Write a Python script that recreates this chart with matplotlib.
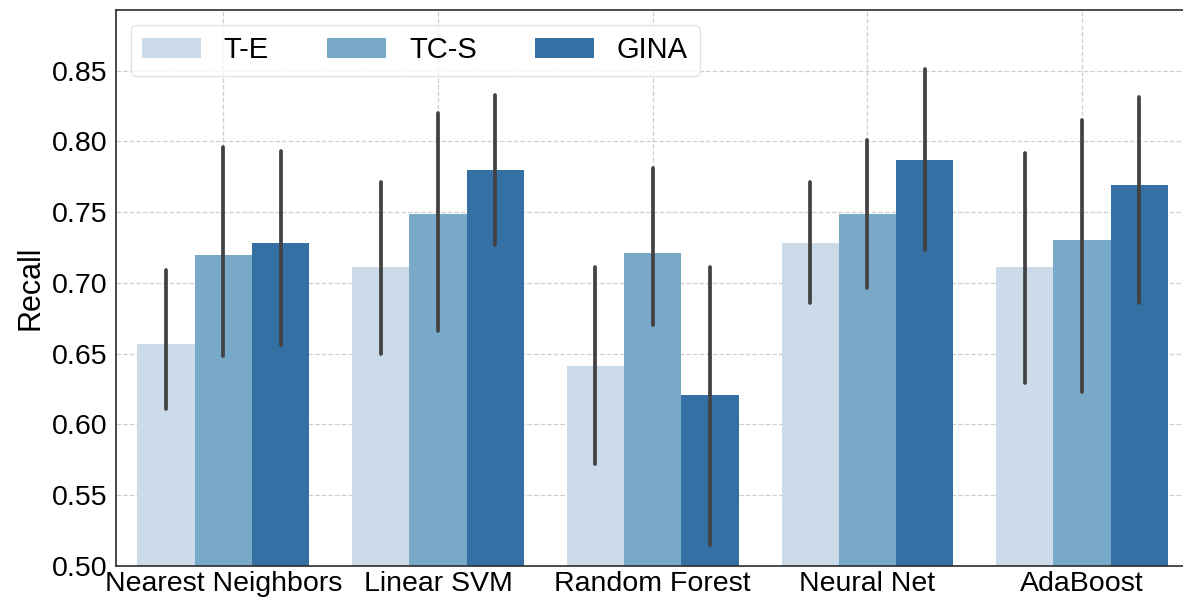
import numpy as np
import matplotlib
matplotlib.use("Agg")
import matplotlib.pyplot as plt

# classifier recall per feature set: bar height with CI bounds
classifiers = ["Nearest Neighbors", "Linear SVM", "Random Forest", "Neural Net", "AdaBoost"]
methods = ["T-E", "TC-S", "GINA"]

te_mean = [0.657, 0.711, 0.641, 0.728, 0.711]
te_lo = [0.611, 0.650, 0.572, 0.686, 0.629]
te_hi = [0.709, 0.771, 0.711, 0.771, 0.792]

tcs_mean = [0.720, 0.749, 0.721, 0.749, 0.730]
tcs_lo = [0.648, 0.666, 0.670, 0.696, 0.623]
tcs_hi = [0.796, 0.820, 0.781, 0.801, 0.815]

gina_mean = [0.728, 0.780, 0.621, 0.787, 0.769]
gina_lo = [0.656, 0.727, 0.515, 0.723, 0.686]
gina_hi = [0.793, 0.833, 0.711, 0.851, 0.831]

colors = ["#cbdbea", "#78a9c9", "#3470a3"]

plt.rcParams["font.family"] = ["Liberation Sans", "DejaVu Sans"]

fig = plt.figure(figsize=(11.83, 6.0), dpi=100)
ax = fig.add_axes([0.098, 0.057, 0.902, 0.926])

x = np.arange(len(classifiers))
w = 0.8 / len(methods)
series = [(te_mean, te_lo, te_hi), (tcs_mean, tcs_lo, tcs_hi), (gina_mean, gina_lo, gina_hi)]
for i, (name, (m, lo, hi)) in enumerate(zip(methods, series)):
    xs = x - 0.4 + w * (i + 0.5)
    ax.bar(xs, m, w, color=colors[i], label=name, zorder=2)
    ax.vlines(xs, lo, hi, colors="#424242", linewidth=2.7, capstyle="round", zorder=3)

ax.set_xlim(-0.5, 4.47)
ax.set_ylim(0.5, 0.8927)
ax.set_xticks(x)
ax.set_xticklabels(classifiers)
ax.set_yticks(np.arange(0.50, 0.851, 0.05))
ax.set_yticklabels([f"{v:.2f}" for v in np.arange(0.50, 0.851, 0.05)])
ax.tick_params(axis="both", length=0, labelsize=20.5)
ax.tick_params(axis="x", pad=3.5)
ax.tick_params(axis="y", pad=6)
ax.set_ylabel("Recall", fontsize=22, labelpad=5)

ax.set_axisbelow(True)
ax.grid(True, linestyle="--", color="#cfcfcf", linewidth=0.9)
for side in ["left", "bottom", "top"]:
    ax.spines[side].set_color("#333333")
    ax.spines[side].set_linewidth(1.25)
ax.spines["right"].set_visible(False)

ax.legend(loc="upper left", ncol=3, fontsize=21, frameon=True, edgecolor="#dddddd")

fig.savefig("out.png", dpi=100)
